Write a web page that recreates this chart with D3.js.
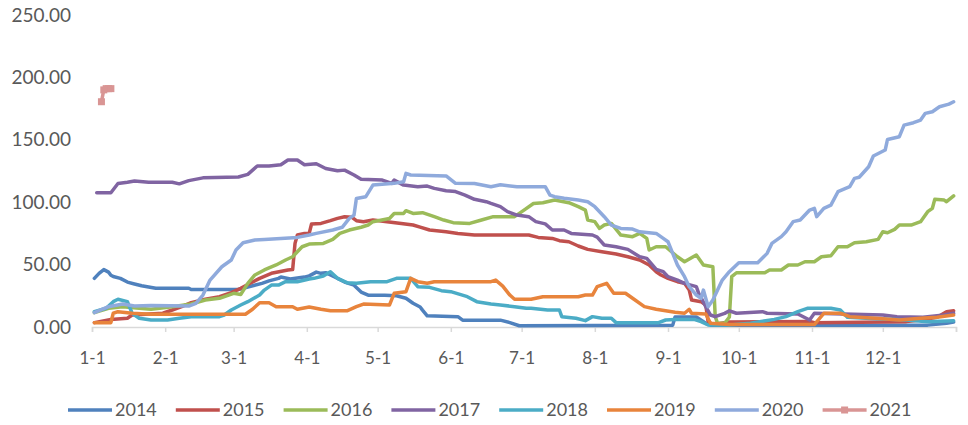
<!DOCTYPE html>
<html>
<head>
<meta charset="utf-8">
<script src="https://cdn.jsdelivr.net/npm/d3@7"></script>
<style>
  body { margin: 0; background: #fff; }
  text { font-family: Lato, "Open Sans", sans-serif; fill: #595959; }
</style>
</head>
<body>
<svg id="chart" width="968" height="425"></svg>
<script>
// series names and colours
const years = ["2014", "2015", "2016", "2017", "2018", "2019", "2020", "2021"];
const colors = ["#4F81BD", "#C0504D", "#9BBB59", "#8064A2", "#4BACC6", "#E8843C", "#8FAADC", "#D99594"];

// y ticks
const yTicks = [0, 50, 100, 150, 200, 250];

// values, [month-day, value]
const s2014 = [["01-02",39],["01-04",43],["01-06",46],["01-08",44],["01-09",41.5],["01-10",40.5],["01-13",39],["01-16",36],["01-19",34.5],["01-22",33],["01-25",32],["01-28",31],["02-11",31],["02-12",30],["03-03",30],["03-07",32],["03-13",35],["03-16",37],["03-20",39],["03-21",40],["03-25",38.5],["03-31",40],["04-02",41],["04-05",44],["04-07",43],["04-09",43.5],["04-13",40],["04-17",36],["04-21",33.5],["04-24",28],["04-27",25.5],["05-04",25.5],["05-09",25],["05-13",23],["05-16",19],["05-19",16],["05-20",13.5],["05-22",9],["06-04",8.3],["06-06",5.5],["06-22",5.5],["06-26",3.5],["06-30",1],["09-03",1.5],["09-04",8],["09-13",8],["09-17",3],["09-19",1.5],["12-20",1.5],["12-28",3],["12-31",4]];
const s2015 = [["01-02",3.5],["01-09",6],["01-16",7],["01-18",9.6],["01-31",11],["02-04",13.6],["02-08",16.3],["02-12",19.5],["02-18",22.2],["02-24",24.3],["02-29",27.5],["03-04",31],["03-08",35],["03-12",39],["03-17",43],["03-24",45.7],["03-26",46],["03-27",67],["03-28",73.7],["03-31",75],["04-02",75],["04-03",82.5],["04-07",83],["04-11",85.2],["04-14",87],["04-17",88.4],["04-20",88],["04-22",85.2],["04-25",84.4],["04-29",85.7],["05-05",84.4],["05-11",83],["05-16",81.7],["05-19",80],["05-23",77.7],["05-30",76.3],["06-04",75],["06-11",73.7],["07-04",73.7],["07-08",71.8],["07-14",71],["07-17",69.2],["07-21",68.3],["07-25",64.9],["07-29",62.2],["08-04",60.3],["08-10",58.5],["08-15",56.3],["08-20",53.7],["08-24",49.7],["08-27",44.3],["08-29",41.7],["09-01",39],["09-05",36.3],["09-08",35],["09-10",29.6],["09-11",21.6],["09-15",20.3],["09-17",17.6],["09-18",4.3],["09-20",2],["09-27",4],["10-31",4.5],["11-02",3.5],["12-11",4.3],["12-17",5.6],["12-24",7.8],["12-28",12.3],["12-31",13]];
const s2016 = [["01-02",11.5],["01-08",15],["01-14",16.3],["01-21",15],["01-26",14.2],["02-04",16.3],["02-12",18.4],["02-18",21.6],["02-24",23],["03-01",27],["03-04",26],["03-07",35],["03-10",41.7],["03-14",45.7],["03-19",49.7],["03-23",53.7],["03-26",56.3],["03-30",64.3],["04-02",66.5],["04-08",67],["04-12",70.2],["04-15",75],["04-19",77.7],["04-24",79.9],["04-27",81.7],["04-29",84.4],["05-06",87],["05-08",91],["05-12",91],["05-13",93.2],["05-16",91],["05-20",91.6],["05-25",88.4],["05-29",85.7],["06-02",83.6],["06-09",83],["06-14",85.7],["06-19",88.4],["06-28",88.4],["07-02",93.7],["07-06",99],["07-10",99.6],["07-15",101.7],["07-21",99.6],["07-25",96.4],["07-28",93.7],["07-29",85.7],["08-01",84.4],["08-03",79],["08-05",81.7],["08-08",83],["08-12",73.7],["08-17",72.4],["08-20",75],["08-23",71],["08-24",61.7],["08-27",64.3],["08-31",64.3],["09-05",56.3],["09-08",52.3],["09-13",57.7],["09-16",49.7],["09-20",48.3],["09-21",8.3],["09-22",3],["09-25",3],["09-27",8],["09-28",40.3],["09-30",43.5],["10-12",43.5],["10-14",45.7],["10-19",45.7],["10-22",49.7],["10-26",49.7],["10-29",52.3],["11-02",52.3],["11-05",56.3],["11-09",57.1],["11-12",64.3],["11-16",64.3],["11-19",67.5],["11-24",68.3],["11-29",70.2],["12-01",76.3],["12-03",75.5],["12-06",78.2],["12-08",81.7],["12-13",81.7],["12-17",84.4],["12-20",92.4],["12-22",95.1],["12-23",102.3],["12-27",101.7],["12-28",100.4],["12-31",105]];
const s2017 = [["01-03",107.6],["01-09",107.6],["01-12",115],["01-16",116],["01-19",117],["01-25",116],["02-04",116],["02-07",114.7],["02-11",117.3],["02-17",119.5],["03-03",120.2],["03-07",122.3],["03-11",129],["03-16",129],["03-21",130],["03-24",133.8],["03-28",133.8],["03-31",130],["04-05",130.8],["04-09",127],["04-14",125.2],["04-17",125.7],["04-21",121.8],["04-24",118.3],["05-03",117.7],["05-07",115.1],["05-08",117.7],["05-12",113.7],["05-18",112.4],["05-22",112.9],["05-25",111.1],["05-30",109.2],["06-03",108.5],["06-07",105.7],["06-11",102.3],["06-16",100.4],["06-18",99],["06-22",96.4],["06-25",92.4],["06-29",89.7],["07-04",88.4],["07-07",84.4],["07-11",82.6],["07-14",77.7],["07-19",77.7],["07-22",75],["07-31",73.7],["08-02",72],["08-05",65.7],["08-10",64.3],["08-15",62.2],["08-20",56.3],["08-23",55],["08-27",46.2],["08-30",44.3],["09-01",40.3],["09-05",37.6],["09-08",35],["09-13",32.3],["09-14",27],["09-17",16.3],["09-19",9.6],["09-21",8.3],["09-25",10.9],["09-27",13],["09-30",11],["10-11",12.3],["10-13",11],["10-26",10.4],["10-31",5.6],["11-02",11],["12-01",9.6],["12-07",8.3],["12-18",7.8],["12-27",9.6],["12-31",11]];
const s2018 = [["01-02",12.3],["01-07",15],["01-10",20.3],["01-12",22.2],["01-16",20.3],["01-18",11],["01-21",7],["01-26",5.6],["02-02",5.6],["02-07",7],["02-12",8.3],["02-24",8.3],["02-26",9.6],["02-29",13.6],["03-04",17.6],["03-07",20.3],["03-12",25.6],["03-14",29.6],["03-17",33.6],["03-20",33.6],["03-23",36.3],["03-28",36.3],["04-02",38.5],["04-04",39],["04-08",40.9],["04-11",44.3],["04-14",39],["04-18",35.5],["04-22",35],["04-28",36.3],["05-05",36.3],["05-09",39],["05-15",39],["05-18",32.3],["05-23",31.8],["05-28",29.1],["06-01",28.3],["06-08",24.3],["06-12",20.3],["06-18",18.4],["06-22",17.6],["06-28",16.3],["07-03",15],["07-05",15],["07-12",13.6],["07-17",13.6],["07-18",8.3],["07-24",7],["07-28",5.1],["07-31",8.3],["08-04",7],["08-08",7],["08-10",3.5],["08-28",3.5],["08-31",5.6],["09-04",6.1],["09-12",6.1],["09-15",4.3],["09-18",1.6],["09-27",1.6],["10-06",3],["10-16",6.1],["10-21",8.3],["10-26",12.3],["10-30",15],["11-09",15],["11-13",13.6],["11-16",7.8],["11-24",7],["12-11",5.6],["12-20",4.3],["12-31",5]];
const s2019 = [["01-02",3.5],["01-09",3.5],["01-10",11],["01-12",12.3],["01-18",11],["01-26",10.2],["03-06",10.2],["03-09",14.2],["03-12",19.5],["03-16",19.5],["03-19",16.3],["03-26",16.3],["03-28",14.2],["04-02",16],["04-07",14.2],["04-11",13],["04-18",13],["04-22",16.3],["04-25",18.4],["05-06",17.6],["05-08",27],["05-13",28.3],["05-15",39],["05-18",36.3],["05-22",35],["05-25",36.3],["06-18",36.3],["06-20",37.6],["06-23",32.8],["06-26",25.6],["06-28",22.2],["07-05",22.2],["07-10",24.3],["07-25",24.3],["07-28",25.6],["07-31",25.6],["08-02",32.3],["08-06",35],["08-09",27],["08-14",27],["08-17",23],["08-22",16.3],["08-27",14.2],["08-31",13],["09-04",11.8],["09-08",11],["09-10",14.2],["09-11",11],["09-17",10.4],["09-19",3],["09-27",2],["11-01",2],["11-02",2],["11-06",11],["11-13",11],["11-17",8.3],["11-28",7],["12-08",5.6],["12-17",7],["12-24",7.8],["12-31",9.6]];
const s2020 = [["01-02",11.5],["01-08",16.3],["01-14",18.4],["01-19",16.8],["01-26",17.3],["02-11",16.8],["02-14",19],["02-17",25.6],["02-20",37.6],["02-25",48.3],["02-29",53.7],["03-02",61.7],["03-05",67.5],["03-10",69.7],["03-14",70.2],["03-21",71],["03-28",71.8],["04-02",73.7],["04-05",75],["04-12",77.7],["04-16",79.9],["04-19",87],["04-21",89.7],["04-22",103],["04-26",104.4],["04-29",113.7],["05-08",115.1],["05-12",116.4],["05-13",123.1],["05-15",121.8],["05-30",121],["06-03",115.1],["06-11",115],["06-18",112.4],["06-22",114],["06-29",112.4],["07-11",112.4],["07-13",105.7],["07-15",104.4],["07-19",103.1],["07-25",101.7],["07-29",100.4],["08-01",96.4],["08-05",88.4],["08-08",81.7],["08-12",79],["08-17",78.5],["08-20",76.3],["08-27",75],["08-30",71],["09-01",68.3],["09-03",59],["09-05",49.7],["09-08",40.3],["09-10",32.3],["09-13",25.6],["09-15",23],["09-16",29.6],["09-18",16.3],["09-20",21.6],["09-22",29.6],["09-24",37.6],["09-27",44.3],["10-01",51.5],["10-09",51.5],["10-13",59],["10-15",67],["10-19",72.4],["10-21",76.3],["10-24",84.4],["10-27",85.7],["10-31",93.7],["11-02",95.1],["11-03",88.4],["11-06",95.1],["11-09",97.7],["11-12",108.4],["11-17",112.4],["11-19",119.1],["11-21",120],["11-25",128.4],["11-27",137],["12-02",141.8],["12-03",150.3],["12-08",152.5],["12-10",161.8],["12-14",163.7],["12-17",165.8],["12-19",171.2],["12-22",172.5],["12-25",176.5],["12-29",178.6],["12-31",180.5]];
const s2021 = [["01-05",180.5],["01-06",190],["01-07",191],["01-08",191],["01-09",191]];

const seriesValues = [s2014, s2015, s2016, s2017, s2018, s2019, s2020, s2021];

const parse = d3.timeParse("%Y-%m-%d");
const toDate = md => parse("2020-" + md);

const svg = d3.select("#chart");

const x = d3.scaleTime()
  .domain([toDate("01-01"), parse("2021-01-01")])
  .range([92, 956]);

const y = d3.scaleLinear()
  .domain([0, 250])
  .range([327, 15]);

// y axis: labels only
svg.append("g")
  .attr("transform", "translate(80,0)")
  .call(d3.axisLeft(y).tickValues(yTicks).tickFormat(d3.format(".2f")).tickSize(0).tickPadding(9))
  .call(g => g.select(".domain").remove())
  .call(g => g.selectAll("text").style("font-size", "19px").style("font-family", "Lato, sans-serif").attr("fill", "#595959"));

// x axis: month ticks, last one unlabeled
const monthTicks = d3.timeMonth.range(toDate("01-01"), parse("2021-01-02"));
const fmt = d3.timeFormat("%-m-%-d");
svg.append("g")
  .attr("transform", "translate(0,327)")
  .call(d3.axisBottom(x).tickValues(monthTicks).tickFormat((d, i) => i === 12 ? "" : fmt(d)).tickSize(5).tickPadding(20))
  .call(g => g.select(".domain").attr("stroke", "#D9D9D9").attr("stroke-width", 1.5))
  .call(g => g.selectAll(".tick line").attr("stroke", "#D9D9D9").attr("stroke-width", 1.5))
  .call(g => g.selectAll("text").style("font-size", "17px").style("font-family", "Lato, sans-serif").attr("fill", "#595959"));

const line = d3.line()
  .x(d => x(toDate(d[0])))
  .y(d => y(d[1]));

// one path per year
svg.append("g")
  .selectAll("path")
  .data(seriesValues)
  .enter().append("path")
  .attr("d", line)
  .attr("fill", "none")
  .attr("stroke", (d, i) => colors[i])
  .attr("stroke-width", 3.5)
  .attr("stroke-linejoin", "round")
  .attr("stroke-linecap", "round");

// square markers on 2021
svg.append("g")
  .selectAll("rect")
  .data(s2021)
  .enter().append("rect")
  .attr("x", d => x(toDate(d[0])) - 3.5)
  .attr("y", d => y(d[1]) - 3.5)
  .attr("width", 7)
  .attr("height", 7)
  .attr("fill", colors[7]);

// legend along the bottom
const legend = svg.append("g")
  .selectAll(".legend-item")
  .data(years)
  .enter().append("g")
  .attr("class", "legend-item")
  .attr("transform", (d, i) => `translate(${68 + i * 107.8},410)`);

legend.append("line")
  .attr("x1", 0)
  .attr("x2", 44)
  .attr("stroke", (d, i) => colors[i])
  .attr("stroke-width", 3.5);

legend.filter((d, i) => i === 7).append("rect")
  .attr("x", 18.5)
  .attr("y", -3.5)
  .attr("width", 7)
  .attr("height", 7)
  .attr("fill", colors[7]);

legend.append("text")
  .attr("x", 47)
  .attr("dy", "0.36em")
  .style("font-size", "18px")
  .text(d => d);
</script>
</body>
</html>
